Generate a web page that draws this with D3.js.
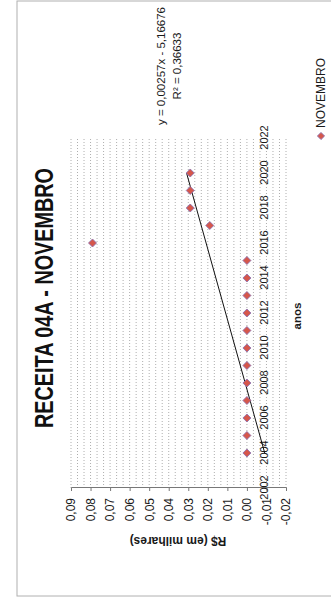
<!DOCTYPE html>
<html>
<head>
<meta charset="utf-8">
<script src="https://cdn.jsdelivr.net/npm/d3@7"></script>
<style>
  html, body { margin: 0; padding: 0; background: #fff; }
  svg { display: block; font-family: "Liberation Sans", Arial, sans-serif; }
</style>
</head>
<body>
<svg id="chart" width="331" height="601"></svg>
<script>
// ---- data ----
const years = [2004, 2005, 2006, 2007, 2008, 2009, 2010, 2011, 2012, 2013, 2014, 2015, 2016, 2017, 2018, 2019, 2020];
const values = [0, 0, 0, 0, 0, 0, 0, 0, 0, 0, 0, 0, 0.079, 0.019, 0.029, 0.029, 0.029];
const yearTicks = [2002, 2004, 2006, 2008, 2010, 2012, 2014, 2016, 2018, 2020, 2022];
const valueTicks = [-0.02, -0.01, 0, 0.01, 0.02, 0.03, 0.04, 0.05, 0.06, 0.07, 0.08, 0.09];
const seriesName = "NOVEMBRO";
const titleText = "RECEITA 04A - NOVEMBRO";
const xTitle = "anos";
const yTitle = "R$ (em milhares)";
const trendEq = "y = 0,00257x - 5,16676";
const trendR2 = "R² = 0,36633";

// ---- layout (chart drawn in a 601x331 frame, then rotated -90deg) ----
const svg = d3.select("#chart");
const g = svg.append("g").attr("transform", "translate(0,601) rotate(-90)");

const x = d3.scaleLinear().domain([2002, 2022]).range([113, 463]);
const y = d3.scaleLinear().domain([-0.02, 0.09]).range([286, 71]);

const loc = d3.formatLocale({decimal: ",", thousands: ".", grouping: [3], currency: ["R$", ""], minus: "-"});
const fmt = loc.format(".2f");

// outer chart border
g.append("rect")
  .attr("x", 5).attr("y", 17).attr("width", 595).attr("height", 340)
  .attr("fill", "none").attr("stroke", "#b0b0b0").attr("stroke-width", 1);

// dense dotted gridlines
const gridVals = d3.range(0, 34).map(i => -0.02 + i * (0.01 / 3));
g.append("g").selectAll("line").data(gridVals).join("line")
  .attr("x1", x(2002)).attr("x2", x(2022))
  .attr("y1", d => y(d)).attr("y2", d => y(d))
  .attr("stroke", "#999").attr("stroke-width", 0.8)
  .attr("stroke-dasharray", "1,2");

// value axis
const yAxis = g.append("g")
  .attr("transform", `translate(${x(2002)},0)`)
  .call(d3.axisLeft(y).tickValues(valueTicks).tickFormat(fmt).tickSize(3).tickPadding(7));
yAxis.select(".domain").attr("stroke", "#777");
yAxis.selectAll(".tick line").attr("stroke", "#777");
yAxis.selectAll("text").attr("font-size", 12).attr("fill", "#1a1a1a");

// year axis at value 0
const xAxis = g.append("g")
  .attr("transform", `translate(0,${y(0)})`)
  .call(d3.axisBottom(x).tickValues(yearTicks).tickFormat(d3.format("d")).tickSize(0).tickPadding(13));
xAxis.select(".domain").attr("stroke", "none");
xAxis.selectAll("text").attr("font-size", 11).attr("fill", "#1a1a1a");

// trend line (least squares over the data)
const mx = d3.mean(years), my = d3.mean(values);
const slope = d3.sum(years, (d, i) => (d - mx) * (values[i] - my)) / d3.sum(years, d => (d - mx) * (d - mx));
const icpt = my - slope * mx;
const x0 = d3.min(years), x1 = d3.max(years);
g.append("line")
  .attr("x1", x(x0)).attr("y1", y(icpt + slope * x0))
  .attr("x2", x(x1)).attr("y2", y(icpt + slope * x1))
  .attr("stroke", "#111").attr("stroke-width", 1);

// points (diamonds)
const diamond = d3.symbol(d3.symbolSquare, 32);
g.append("g").selectAll("path").data(years).join("path")
  .attr("d", diamond)
  .attr("transform", (d, i) => `translate(${x(d)},${y(values[i])}) rotate(45)`)
  .attr("fill", "#d5574c").attr("stroke", "#8a70b0").attr("stroke-width", 0.8);

// title
g.append("text")
  .attr("x", 303).attr("y", 44)
  .attr("text-anchor", "middle").attr("dominant-baseline", "central")
  .attr("font-size", 25).attr("font-weight", "bold").attr("fill", "#111")
  .attr("textLength", 260).attr("lengthAdjust", "spacingAndGlyphs")
  .text(titleText);

// axis titles
g.append("text")
  .attr("transform", "translate(60,178) rotate(-90)")
  .attr("text-anchor", "middle").attr("dominant-baseline", "central")
  .attr("font-size", 12).attr("font-weight", "bold").attr("fill", "#1a1a1a")
  .text(yTitle);
g.append("text")
  .attr("x", 285).attr("y", 297)
  .attr("text-anchor", "middle").attr("dominant-baseline", "central")
  .attr("font-size", 11.5).attr("font-weight", "bold").attr("fill", "#1a1a1a")
  .text(xTitle);

// trendline labels
g.append("text")
  .attr("x", 535).attr("y", 161)
  .attr("text-anchor", "middle").attr("dominant-baseline", "central")
  .attr("font-size", 11.5).attr("fill", "#1a1a1a")
  .text(trendEq);
g.append("text")
  .attr("x", 535).attr("y", 177)
  .attr("text-anchor", "middle").attr("dominant-baseline", "central")
  .attr("font-size", 11.5).attr("fill", "#1a1a1a")
  .text(trendR2);

// legend
g.append("path")
  .attr("d", d3.symbol(d3.symbolSquare, 26))
  .attr("transform", "translate(465,321) rotate(45)")
  .attr("fill", "#d5574c").attr("stroke", "#8a70b0").attr("stroke-width", 0.8);
g.append("text")
  .attr("x", 473).attr("y", 321)
  .attr("dominant-baseline", "central")
  .attr("font-size", 12).attr("fill", "#1a1a1a")
  .text(seriesName);
</script>
</body>
</html>
